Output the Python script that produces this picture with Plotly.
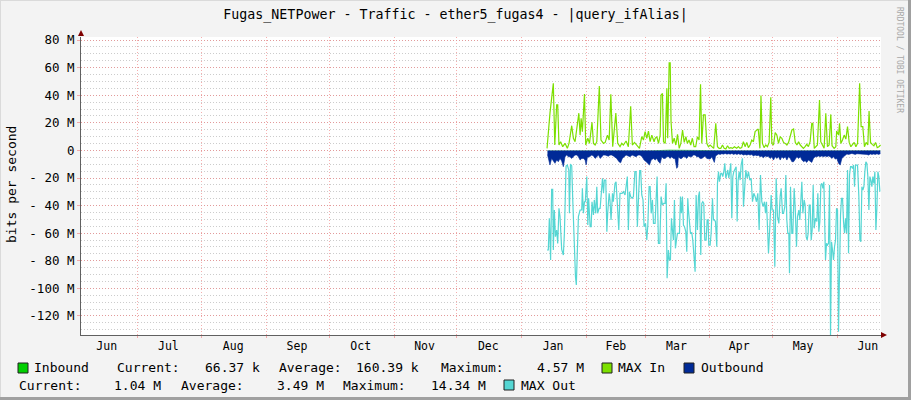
import plotly.graph_objects as go
import pandas as pd

# ---------------- data ----------------
START = pd.Timestamp("2023-01-13 02:00")
X_RANGE = ["2022-06-04 05:00", "2023-06-21 19:00"]

# (day offset from START, Mbit/s)
inbound = [(0, 0.2), (10, 0.1), (20, 0.2), (30, 0.15), (40, 0.2), (50, 0.1), (58.5, 0.5),
           (70, 0.15), (80, 0.1), (90, 0.05), (100, 0.1), (110, 0.15), (120, 0.1),
           (130, 0.2), (140, 0.15), (149.5, 0.4), (159.5, 0.07)]

max_in = [(0, 1.5), (1.4, 27), (3, 48.6), (3.7, 3.9), (4.6, 33), (5.1, 33), (5.7, 4), (6.5, 6.3),
          (7.5, 2.7), (8.6, 5.1), (9.7, 1.5), (10.5, 5.1), (11.8, 17.9), (12.6, 8.8), (13.4, 6.3),
          (14.5, 17.2), (15.2, 27), (15.8, 11.1), (16.3, 23.2), (16.9, 13.6), (17.9, 40.8),
          (18.5, 3.9), (19.5, 8.8), (20.3, 5.1), (21.5, 20.3), (22.2, 5.1), (23, 3.9), (23.8, 6.3),
          (25, 46.6), (25.8, 7.5), (27, 5.1), (27.8, 5.8), (28.9, 11.1), (29.7, 7.5), (30.5, 40.6),
          (31.4, 2.7), (32.9, 27), (33.8, 5.1), (34.9, 2.7), (35.7, 5.1), (36.5, 3.9), (37.8, 6.8),
          (38.9, 2.7), (40, 32), (40.8, 3.9), (41.8, 5.8), (42.9, 3.9), (44.2, 1.5), (45.3, 10),
          (46.1, 7.5), (46.9, 13.6), (47.7, 8.8), (48.5, 14), (49.3, 6.3), (50.1, 11.1), (51.2, 6.3),
          (51.7, 8.7), (52.5, 9.9), (53.3, 5.1), (54.1, 11.1), (54.5, 40), (55.2, 41.3), (55.7, 6.3),
          (56.5, 5.1), (57.3, 45), (57.7, 8.8), (58.4, 63.5), (58.9, 63.5), (59.3, 20.8), (60, 5.1),
          (60.8, 8.8), (61.6, 3.9), (62.4, 11.6), (63.2, 1.5), (64, 5.1), (64.8, 14.7), (65.6, 5.8),
          (66.4, 9.9), (67.1, 5.1), (67.9, 7.5), (68.7, 3.9), (69.5, 8.8), (70.3, 2.7), (71.1, 2.7),
          (71.9, 9.9), (72.7, 7.5), (73.4, 48), (74, 5.1), (74.8, 25.7), (75.6, 25.7), (76.4, 5.1),
          (77.2, 2.7), (78, 3.9), (78.8, 2.7), (79.7, 1.5), (80.7, 19.6), (81.5, 2.7), (82.3, 1.5),
          (83.1, 1.5), (83.9, 3.9), (84.7, 1.5), (85.5, 1), (86.3, 3.4), (87.1, 1.5), (87.9, 2),
          (88.7, 1.5), (89.6, 2.7), (90.7, 1.5), (91.5, 2.7), (92.3, 1.5), (93.1, 2), (93.9, 6.3),
          (94.7, 2.7), (95.5, 5.8), (96.3, 2), (97.1, 3.9), (97.9, 7.5), (98.7, 6.3), (99.5, 13.6),
          (100.3, 14.7), (101, 15.5), (101.8, 1.5), (102.3, 39.7), (103, 5.1), (103.8, 2),
          (104.6, 3.9), (105.4, 2.7), (106.2, 5.8), (107, 38.5), (107.5, 5.1), (108.3, 3.9),
          (109.1, 13), (109.9, 11.1), (110.7, 5.1), (111.5, 9.9), (112.3, 8.8), (113.1, 5.8),
          (113.9, 5.1), (114.7, 3.9), (115.5, 5.8), (116.3, 9.9), (117.1, 14.8), (117.9, 15.5),
          (118.7, 5.8), (119.5, 3.9), (120.3, 6.3), (121.1, 3.9), (121.9, 2.7), (122.6, 1.5),
          (123.4, 2.7), (124.2, 4.4), (125, 2.7), (125.8, 6.3), (126.6, 19.6), (127.1, 19.6),
          (127.8, 1.5), (128.6, 2.7), (129.3, 3.9), (130.3, 36.5), (130.9, 6.3), (131.7, 3.9),
          (132.5, 1.5), (133.3, 27), (134.1, 2.7), (134.9, 3.9), (135.7, 26.1), (136.3, 3.4),
          (137.3, 1.5), (138.1, 2.7), (138.5, 14), (139.4, 11.1), (139.9, 19.6), (140.5, 5.1),
          (141.3, 7.5), (142.1, 11.1), (142.9, 8.2), (143.7, 17.2), (144.5, 5.8), (145.3, 2.7),
          (146.1, 3.9), (146.9, 5.8), (147.7, 2.7), (148.5, 5.1), (149.5, 48.6), (150.2, 17.2),
          (151, 17.2), (151.8, 2.7), (152.6, 5.8), (153.4, 3.9), (154, 28.5), (154.7, 5.8),
          (155.5, 4.4), (156.3, 3.4), (157.1, 5.8), (157.9, 2), (158.7, 2.7), (159.5, 3.9)]

outbound = [(0.2, -3), (0.8, -8), (1.4, -10.6), (2.2, -5.8), (3, -8.2), (3.8, -9.4), (4.6, -7),
            (5.4, -8.2), (6.2, -5.8), (7, -7.7), (7.8, -11.8), (8.6, -4.6), (9.4, -3.4), (10.2, -4.6),
            (11, -4.6), (11.8, -5.8), (12.6, -4.6), (13.4, -3.4), (14.2, -3.4), (15, -4.6), (15.8, -7),
            (16.6, -5.8), (17.4, -5.8), (18.2, -7), (18.7, -10.5), (19.3, -5), (20.3, -4.6),
            (21.4, -3.4), (22.2, -4), (23, -5.8), (23.8, -4.6), (24.6, -3.4), (25.4, -5.8),
            (26.2, -4.6), (27, -3.4), (27.8, -3.4), (28.5, -4), (29.3, -4.2), (30.1, -3.4),
            (30.9, -3.4), (31.7, -4), (32.5, -4.6), (33.3, -5.8), (34.4, -8.2), (35.2, -9),
            (36, -5.8), (36.8, -4.6), (37.8, -3.4), (38.8, -4), (39.7, -4.6), (40.7, -3.4),
            (41.6, -4), (42.6, -4.6), (43.5, -3.4), (44.5, -3.4), (45.5, -4.6), (46.4, -7),
            (47.4, -8.2), (48.2, -9.6), (49, -10.6), (49.8, -7), (50.9, -5.8), (51.7, -7),
            (52.5, -5.8), (53.3, -8.2), (54.1, -9.4), (54.9, -4.6), (55.7, -5.8), (56.5, -5.8),
            (57.3, -4.6), (58.1, -4.6), (58.9, -5.8), (59.6, -4.6), (60.4, -5.8), (61.2, -5.8),
            (62, -13), (62.5, -12), (62.8, -4.6), (63.6, -5.8), (64.4, -5.8), (65.2, -4.6),
            (66, -4.6), (66.8, -5.8), (67.6, -4), (68.4, -4.6), (69.2, -4.6), (70, -3.4),
            (70.8, -3.4), (71.6, -4.6), (72.4, -4.6), (73.2, -5.8), (74, -5.8), (74.8, -5),
            (75.6, -4), (76.4, -5.8), (77.2, -5.8), (78, -6.3), (78.8, -4.6), (79.5, -7), (80, -8.7),
            (80.6, -4), (81.2, -3.4), (82, -2.6), (82.8, -2.9), (83.6, -2.4), (84.4, -2.7),
            (85.2, -2.2), (86, -2.7), (86.8, -2.4), (87.6, -2.7), (88.4, -2.2), (89.2, -2.9),
            (90, -2.4), (90.8, -2.9), (91.6, -2.4), (92.3, -2.9), (93.1, -2.6), (93.9, -3.4),
            (94.7, -2.9), (95.5, -3.4), (96.3, -2.9), (97.1, -3.4), (97.9, -3), (98.7, -4),
            (99.5, -3.4), (100.3, -3.8), (101.1, -3.6), (101.9, -4.6), (102.7, -4.2), (103.5, -5.3),
            (104.3, -4), (105, -4.6), (105.9, -4.2), (106.7, -5.8), (107.5, -4.6), (108.3, -7),
            (109.1, -4.6), (109.9, -5.8), (110.7, -4.6), (111.5, -7), (112.3, -4.6), (113.1, -5.8),
            (113.9, -4.6), (114.7, -7), (115.5, -4.6), (116.3, -5.8), (117.1, -8.2), (117.9, -8.2),
            (118.7, -5.8), (119.5, -4.6), (120.3, -5.8), (121.1, -4.6), (121.9, -7), (122.7, -8.2),
            (123.4, -7.5), (124.2, -8.7), (125, -7), (125.8, -7.7), (126.6, -8.7), (127.4, -5.8),
            (128.2, -4.6), (129, -4.6), (129.8, -4), (130.6, -4.6), (131.4, -4), (132.2, -4.6),
            (133, -4), (133.8, -4.6), (134.6, -4), (135.4, -4.6), (136.2, -5.8), (137, -4.6),
            (137.8, -6.3), (138.6, -5.8), (139.4, -9.4), (140.2, -10.6), (141, -5.8), (141.8, -4.6),
            (142.6, -3.4), (143.4, -2.6), (144.2, -2.9), (145, -2.4), (145.8, -2.2), (146.6, -2.6),
            (147.4, -2.9), (148.2, -2.4), (149, -2.4), (149.8, -2.7), (150.6, -2.9), (151.4, -2.4),
            (152.2, -2.7), (153, -2.9), (153.8, -3.4), (154.6, -2.6), (155.4, -2.9), (156.2, -2.6),
            (157, -2.9), (157.8, -2.4), (158.5, -2.9), (159.4, -2.4)]

max_out = [(0, -72.2), (0.6, -72.2), (1.1, -49.2), (1.7, -79.4), (2.2, -28.2), (2.7, -28.2),
           (3.0, -72.2), (3.5, -43.2), (4.0, -62.5), (4.6, -57.7), (5.1, -67.4), (5.7, -42),
           (6.2, -48), (7.0, -71.7), (7.8, -75.8), (8.3, -60.1), (9.1, -11.3), (9.7, -10.6),
           (10.4, -14.2), (10.7, -45.6), (11.2, -9.9), (11.8, -11.3), (12.3, -35.9), (12.9, -69.8),
           (13.6, -91.5), (14.0, -97.5), (14.5, -69.8), (15.0, -48), (15.8, -43.2), (16.6, -43.2),
           (16.9, -27.5), (17.4, -45.6), (17.9, -37.2), (18.3, -37.2), (19.0, -19), (19.5, -54.1),
           (19.9, -34.7), (20.6, -55.3), (21.1, -55.3), (21.5, -37.2), (22.2, -46.8), (22.6, -35.9),
           (23.3, -45.6), (23.8, -26.3), (24.2, -45.6), (24.9, -42), (25.4, -42), (26.0, -31.1),
           (26.5, -20.2), (27.0, -31.1), (27.4, -21.5), (28.1, -21.5), (28.6, -58.9), (29.0, -45.6),
           (29.7, -31.1), (30.1, -35.9), (30.6, -50.4), (31.3, -31.1), (31.7, -37.2), (32.5, -23.9),
           (33.0, -22.7), (33.7, -40.8), (34.3, -57.7), (34.9, -31.1), (35.4, -31.1), (35.9, -31.1),
           (36.5, -29.9), (37.3, -32.3), (37.8, -26.3), (38.4, -19), (38.9, -57.7), (39.4, -29.9),
           (40.0, -33.5), (40.7, -34.7), (41.3, -33.5), (42.0, -15.4), (42.6, -15.4), (43.2, -55.3),
           (43.9, -28.7), (44.3, -14.7), (44.8, -14.7), (45.3, -32.3), (45.9, -35.9), (46.4, -55.3),
           (47.1, -52.9), (47.7, -65), (48.2, -54.1), (48.8, -26.3), (49.3, -26.3), (49.8, -45.6),
           (50.4, -35.9), (50.9, -52.9), (51.67, -52.9), (52.15, -29.9), (52.63, -19),
           (53.27, -67.4), (53.91, -67.4), (54.55, -33.5), (55.18, -39.6), (55.82, -38.4),
           (56.46, -38.4), (56.94, -23.9), (57.42, -92.7), (58.05, -72.2), (58.53, -79.4),
           (59.01, -79.4), (59.49, -49.2), (59.97, -57.7), (60.45, -65), (60.93, -35.9),
           (61.4, -71), (61.88, -65), (62.36, -60.1), (62.84, -60.1), (63.32, -60.1), (63.8, -33.5),
           (64.27, -45.6), (64.75, -33.5), (65.23, -54.1), (65.71, -55.3), (66.35, -58.9),
           (66.83, -73.4), (67.3, -34.7), (67.62, -43.2), (68.1, -51.6), (68.58, -60.1),
           (69.22, -59.6), (69.7, -65), (70.18, -74.6), (70.81, -87.9), (71.29, -32.3),
           (71.93, -57.7), (72.41, -33.5), (72.89, -29.9), (73.52, -75.8), (74.0, -38.4),
           (74.48, -37.2), (74.96, -38.4), (75.44, -65), (76.08, -65), (76.56, -50.4), (77.03, -50.4),
           (77.35, -68.6), (77.99, -68.6), (78.47, -60.1), (79.11, -34.7), (79.59, -50.4),
           (80.06, -50.4), (80.54, -51.6), (81.18, -69.8), (81.5, -23.9), (82.0, -15.4),
           (82.46, -22.7), (83.1, -16.6), (83.57, -16.6), (84.05, -19), (84.53, -15.4), (85.01, -9.4),
           (85.49, -20.2), (85.96, -15.4), (86.44, -14.2), (86.92, -20.2), (87.4, -14.2),
           (87.88, -9.4), (88.36, -49.2), (88.84, -19), (89.31, -15.4), (89.95, -13), (90.43, -11.8),
           (90.91, -51.6), (91.39, -21.5), (91.87, -15.4), (92.34, -21.5), (92.82, -10.6),
           (93.46, -5.7), (93.94, -40.8), (94.42, -26.3), (95.06, -14.2), (95.69, -20.2),
           (96.33, -15.4), (96.97, -21.5), (97.61, -20.2), (98.25, -37.2), (98.88, -31.1),
           (99.52, -33.5), (100.16, -37.2), (100.8, -31.1), (101.44, -57.7), (102.07, -17.8),
           (102.71, -37.2), (103.35, -40.8), (103.99, -37.2), (104.47, -45.6), (104.94, -37.2),
           (105.42, -55.3), (105.9, -74.6), (106.54, -55.3), (107.18, -32.3), (107.66, -43.2),
           (108.29, -43.2), (108.93, -84.3), (109.57, -20.2), (110.21, -48), (110.85, -52.9),
           (111.48, -33.5), (111.96, -27.5), (112.6, -45.6), (113.08, -45.6), (113.72, -40.8),
           (114.2, -17.8), (114.67, -50.4), (115.15, -60.1), (115.63, -60.1), (115.95, -89.1),
           (116.43, -26.3), (117.07, -60.1), (117.54, -60.1), (118.18, -27.5), (118.66, -40.8),
           (119.3, -69.8), (119.78, -48), (120.41, -43.2), (120.89, -50.4), (121.37, -37.2),
           (121.85, -22.7), (122.33, -45.6), (122.97, -35.9), (123.44, -39.6), (123.92, -62.5),
           (124.4, -65), (124.88, -60.1), (125.36, -39.6), (125.84, -39.6), (126.32, -65),
           (126.79, -57.7), (127.27, -25.1), (127.75, -56.5), (128.39, -49.2), (129.03, -51.6),
           (129.51, -31.1), (129.98, -58.9), (130.46, -51.6), (130.94, -25.1), (131.42, -23.9),
           (131.9, -27.5), (132.38, -22.7), (132.85, -56.5), (133.17, -79.4), (133.65, -67.4),
           (134.13, -68.6), (134.61, -67.4), (135.09, -25.1), (135.57, -134), (136.04, -66.2),
           (136.52, -72.2), (137.0, -79.4), (137.48, -69.8), (137.96, -65), (138.44, -42),
           (138.92, -43.2), (139.39, -131.4), (139.87, -73.4), (140.35, -46.8), (140.83, -34.7),
           (141.31, -34.7), (141.79, -51.6), (142.26, -60.1), (142.74, -49.2), (143.22, -60.1),
           (143.7, -14.2), (144.18, -74.6), (144.66, -17.8), (145.14, -11.8), (145.61, -11.8),
           (146.09, -13), (146.57, -10.6), (147.05, -26.3), (147.53, -10.6), (148.01, -10.6),
           (148.48, -10.6), (149.12, -33.5), (149.6, -65), (150.08, -66.2), (150.56, -26.3),
           (151.04, -28.7), (151.52, -26.3), (151.99, -15.4), (152.47, -8.2), (152.95, -9.4),
           (153.43, -19), (153.91, -43.2), (154.39, -19), (154.86, -21.5), (155.34, -26.3),
           (155.82, -19), (156.3, -23.9), (156.78, -15.4), (157.26, -57.7), (157.74, -42),
           (158.21, -15.4), (158.69, -19), (159.17, -29.9)]

y_tickvals = [80, 60, 40, 20, 0, -20, -40, -60, -80, -100, -120]
y_ticktext = ["80 M", "60 M", "40 M", "20 M", "0", "- 20 M", "- 40 M", "- 60 M",
              "- 80 M", "-100 M", "-120 M"]
Y_RANGE = [-133.8, 82.2]

month_labels = ["Jun", "Jul", "Aug", "Sep", "Oct", "Nov", "Dec",
                "Jan", "Feb", "Mar", "Apr", "May", "Jun"]
month_label_dates = ["2022-06-16 12:00", "2022-07-16", "2022-08-16", "2022-09-15 12:00",
                     "2022-10-16", "2022-11-15 12:00", "2022-12-16", "2023-01-16", "2023-02-15",
                     "2023-03-16", "2023-04-15", "2023-05-15 12:00", "2023-06-15 12:00"]
month_starts = ["2022-07-01", "2022-08-01", "2022-09-01", "2022-10-01", "2022-11-01",
                "2022-12-01", "2023-01-01", "2023-02-01", "2023-03-01", "2023-04-01",
                "2023-05-01", "2023-06-01"]

title_text = "Fugas_NETPower - Traffic - ether5_fugas4 - |query_ifAlias|"
inbound_stats = ["66.37 k", "160.39 k", "4.57 M"]
outbound_stats = ["1.04 M", "3.49 M", "14.34 M"]

C_IN = "#00CF00"
C_MAXIN = "#7CE000"
C_OUT = "#002A97"
C_MAXOUT = "#55D6D3"
FONT = "DejaVu Sans Mono"
GRID_MAJOR = "rgba(240,120,120,0.6)"


def to_xy(pairs):
    d = [p[0] for p in pairs]
    v = [p[1] for p in pairs]
    x = [START + pd.Timedelta(days=k) for k in d]
    return x, v


fig = go.Figure()
x, y = to_xy(inbound)
fig.add_trace(go.Scatter(x=x, y=y, mode="lines", line=dict(width=0, color=C_IN),
                         fill="tozeroy", fillcolor=C_IN, hoverinfo="skip"))
x, y = to_xy(max_in)
fig.add_trace(go.Scatter(x=x, y=y, mode="lines", line=dict(width=1.2, color=C_MAXIN),
                         hoverinfo="skip"))
x, y = to_xy(outbound)
fig.add_trace(go.Scatter(x=x, y=y, mode="lines", line=dict(width=0.6, color=C_OUT),
                         fill="tozeroy", fillcolor=C_OUT, hoverinfo="skip"))
x, y = to_xy(max_out)
fig.add_trace(go.Scatter(x=x, y=y, mode="lines", line=dict(width=1.2, color=C_MAXOUT),
                         hoverinfo="skip"))

# ---------------- layout ----------------
L, R, T, B = 81, 30, 37, 65
W, H = 911, 400
PW, PH = W - L - R, H - T - B


def pxx(px):
    return (px - L) / PW


def pxy(py):
    return (H - B - py) / PH


fig.update_layout(
    width=W, height=H,
    margin=dict(l=L, r=R, t=T, b=B),
    paper_bgcolor="#F3F3F3",
    plot_bgcolor="#FFFFFF",
    showlegend=False,
    title=dict(text=title_text, x=0.5, xanchor="center", y=1 - 14 / H, yanchor="middle",
               font=dict(family=FONT, size=13.3, color="#000000")),
    xaxis=dict(
        type="date", range=X_RANGE, tickmode="array", tickvals=month_label_dates,
        ticktext=month_labels, showgrid=False, ticks="", zeroline=False,
        tickfont=dict(family=FONT, size=11.5, color="#000000"),
        showline=True, linecolor="#606060", linewidth=1,
        minor=dict(tickmode="array", tickvals=month_starts, showgrid=True,
                   gridcolor=GRID_MAJOR, griddash="1px,2px", gridwidth=1,
                   ticks="outside", ticklen=2, tickcolor=GRID_MAJOR),
    ),
    yaxis=dict(
        range=Y_RANGE, tickmode="array", tickvals=y_tickvals, ticktext=y_ticktext,
        showgrid=True, gridcolor=GRID_MAJOR, griddash="1px,2px", gridwidth=1,
        zeroline=False, ticks="outside", ticklen=3, tickcolor=GRID_MAJOR,
        tickfont=dict(family=FONT, size=12.5, color="#000000"),
        showline=True, linecolor="#606060", linewidth=1,
        minor=dict(dtick=5, tick0=0, showgrid=True, gridcolor="#CCCCCC",
                   griddash="1px,2px", gridwidth=1),
    ),
)

shapes = []
# axis arrows
shapes.append(dict(type="path", xref="paper", yref="paper", layer="above",
                   path=f"M {pxx(78)},{pxy(36)} L {pxx(84)},{pxy(36)} L {pxx(81)},{pxy(30)} Z",
                   fillcolor="#7F0000", line=dict(width=0)))
shapes.append(dict(type="path", xref="paper", yref="paper", layer="above",
                   path=f"M {pxx(881)},{pxy(332)} L {pxx(881)},{pxy(338)} L {pxx(887)},{pxy(335)} Z",
                   fillcolor="#7F0000", line=dict(width=0)))
# frame shading
shapes.append(dict(type="rect", xref="paper", yref="paper", layer="above",
                   x0=pxx(908), x1=pxx(911), y0=pxy(400), y1=pxy(0),
                   fillcolor="#A0A0A0", line=dict(width=0)))
shapes.append(dict(type="rect", xref="paper", yref="paper", layer="above",
                   x0=pxx(0), x1=pxx(911), y0=pxy(400), y1=pxy(397),
                   fillcolor="#A0A0A0", line=dict(width=0)))
shapes.append(dict(type="rect", xref="paper", yref="paper", layer="above",
                   x0=pxx(0), x1=pxx(908), y0=pxy(1), y1=pxy(0),
                   fillcolor="#DADADA", line=dict(width=0)))
shapes.append(dict(type="rect", xref="paper", yref="paper", layer="above",
                   x0=pxx(0), x1=pxx(1), y0=pxy(397), y1=pxy(0),
                   fillcolor="#DADADA", line=dict(width=0)))

annotations = []
# y axis title
annotations.append(dict(text="bits per second", x=pxx(12), y=pxy(185), xref="paper", yref="paper",
                        showarrow=False, textangle=-90, xanchor="center", yanchor="middle",
                        font=dict(family=FONT, size=13, color="#000000")))
# watermark
annotations.append(dict(text="RRDTOOL / TOBI OETIKER", x=pxx(900), y=pxy(60), xref="paper",
                        yref="paper", showarrow=False, textangle=90, xanchor="center",
                        yanchor="middle", font=dict(family=FONT, size=8, color="#A8A8A8")))

# legend
row1, row2 = 368, 385
legend_squares = [(18, row1, C_IN), (602, row1, C_MAXIN), (684, row1, C_OUT), (504, row2, C_MAXOUT)]
for sx, sy, col in legend_squares:
    shapes.append(dict(type="rect", xref="paper", yref="paper", layer="above",
                       x0=pxx(sx), x1=pxx(sx + 10), y0=pxy(sy + 5), y1=pxy(sy - 5),
                       fillcolor=col, line=dict(width=1, color="#202020")))

legend_texts = [
    ("Inbound", 33, row1), ("Current:", 116, row1), (inbound_stats[0], 204, row1),
    ("Average:", 278, row1), (inbound_stats[1], 355, row1), ("Maximum:", 440, row1),
    (inbound_stats[2], 536, row1), ("MAX In", 617, row1), ("Outbound", 700, row1),
    ("Current:", 18, row2), (outbound_stats[0], 113, row2), ("Average:", 180, row2),
    (outbound_stats[1], 276, row2), ("Maximum:", 342, row2), (outbound_stats[2], 430, row2),
    ("MAX Out", 520, row2),
]
for t, lx, ly in legend_texts:
    annotations.append(dict(text=t, x=pxx(lx), y=pxy(ly), xref="paper", yref="paper",
                            showarrow=False, xanchor="left", yanchor="middle", borderpad=0,
                            font=dict(family=FONT, size=13, color="#000000")))

fig.update_layout(shapes=shapes, annotations=annotations)
fig.write_html("out.html", config={"displayModeBar": False},
               post_script="document.body.style.margin='0';document.body.style.padding='0';")
